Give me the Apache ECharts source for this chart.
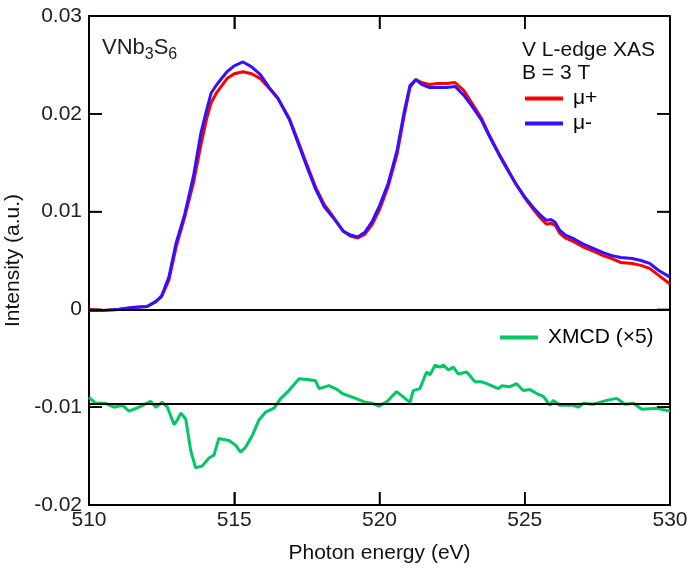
<!DOCTYPE html>
<html>
<head>
<meta charset="utf-8">
<script src="https://cdn.jsdelivr.net/npm/echarts@6/dist/echarts.min.js"></script>
<style>
  html, body { margin: 0; padding: 0; background: #fff; }
  #chart { width: 691px; height: 573px; }
</style>
</head>
<body>
<div id="chart"></div>
<script>
// photon energies (eV) shared by the two XAS spectra
const energy = [510, 510.5, 511, 511.5, 512, 512.3, 512.5, 512.75, 513, 513.3, 513.6, 513.85, 514.05, 514.2, 514.4,
  514.75, 515.0, 515.3, 515.6, 515.9, 516.2, 516.5, 516.9, 517.2, 517.5, 517.8, 518.1, 518.4, 518.75, 519.0,
  519.25, 519.5, 519.75, 520.0, 520.3, 520.6, 520.85, 521.05, 521.25, 521.45, 521.7, 522.0, 522.3, 522.6, 522.9,
  523.2, 523.5, 523.8, 524.1, 524.4, 524.7, 525.0, 525.3, 525.55, 525.75, 525.9, 526.05, 526.2, 526.4, 526.7,
  527.0, 527.4, 527.7, 528.0, 528.3, 528.7, 529.0, 529.3, 529.6, 530];

const muPlus = [0.0000, -0.0001, 0.0000, 0.0002, 0.0003, 0.0008, 0.0013, 0.0030, 0.0064, 0.0095, 0.0130, 0.0168, 0.0195, 0.0211, 0.0222,
  0.0236, 0.0241, 0.0243, 0.0241, 0.0236, 0.0226, 0.0216, 0.0195, 0.0172, 0.0148, 0.0125, 0.0107, 0.0095, 0.0080, 0.0075,
  0.0073, 0.0077, 0.0087, 0.0102, 0.0126, 0.0158, 0.0198, 0.0227, 0.0235, 0.0232, 0.0230, 0.0231, 0.0231, 0.0232, 0.0224,
  0.0210, 0.0196, 0.0177, 0.0160, 0.0144, 0.0128, 0.0114, 0.0102, 0.0093, 0.0087, 0.0088, 0.0086, 0.0078, 0.0073, 0.0069,
  0.0064, 0.0059, 0.0055, 0.0052, 0.0048, 0.0047, 0.0045, 0.0042, 0.0035, 0.0026];

const muMinus = [-0.0001, -0.0001, 0.0000, 0.0002, 0.0003, 0.0008, 0.0014, 0.0033, 0.0068, 0.0098, 0.0137, 0.0180, 0.0204, 0.0221, 0.0230,
  0.0243, 0.0249, 0.0253, 0.0248, 0.0240, 0.0227, 0.0216, 0.0194, 0.0170, 0.0146, 0.0123, 0.0105, 0.0094, 0.0080, 0.0076,
  0.0074, 0.0079, 0.0090, 0.0106, 0.0129, 0.0162, 0.0202, 0.0229, 0.0235, 0.0230, 0.0227, 0.0227, 0.0227, 0.0228, 0.0219,
  0.0207, 0.0194, 0.0176, 0.0159, 0.0143, 0.0128, 0.0115, 0.0104, 0.0096, 0.0091, 0.0092, 0.0089, 0.0081, 0.0076, 0.0072,
  0.0067, 0.0062, 0.0058, 0.0055, 0.0053, 0.0052, 0.0050, 0.0047, 0.0040, 0.0033];

// XMCD (x5), drawn offset below zero
const xmcdEnergy = [510, 510.23, 510.57, 510.86, 511.15, 511.38, 511.72, 512.12, 512.3, 512.52, 512.7, 512.93, 513.04, 513.16, 513.33,
  513.5, 513.67, 513.9, 514.13, 514.3, 514.47, 514.82, 515.05, 515.22, 515.39, 515.62, 515.85, 516.08, 516.37, 516.6,
  516.88, 517.23, 517.57, 517.8, 517.92, 518.26, 518.55, 518.72, 519.18, 519.52, 519.75, 519.98, 520.27, 520.59, 521.05,
  521.16, 521.39, 521.62, 521.74, 521.91, 522.08, 522.2, 522.37, 522.54, 522.71, 523.0, 523.29, 523.52, 523.69, 524.09,
  524.21, 524.49, 524.72, 524.95, 525.18, 525.41, 525.64, 525.87, 525.98, 526.21, 526.67, 526.84, 527.02, 527.36, 527.82,
  528.17, 528.45, 528.74, 529.03, 529.54, 530];
const xmcd = [-0.0090, -0.0096, -0.0096, -0.0100, -0.0098, -0.0104, -0.0100, -0.0094, -0.0100, -0.0095, -0.0100, -0.0118, -0.0113, -0.0106, -0.0112,
  -0.0144, -0.0162, -0.0160, -0.0152, -0.0149, -0.0132, -0.0134, -0.0139, -0.0146, -0.0141, -0.0129, -0.0113, -0.0105, -0.0101, -0.0091,
  -0.0083, -0.0071, -0.0072, -0.0073, -0.0081, -0.0078, -0.0082, -0.0086, -0.0091, -0.0095, -0.0096, -0.0099, -0.0094, -0.0084, -0.0095,
  -0.0083, -0.0081, -0.0064, -0.0067, -0.0057, -0.0059, -0.0057, -0.0062, -0.0059, -0.0066, -0.0064, -0.0074, -0.0074, -0.0076, -0.0081,
  -0.0078, -0.0079, -0.0076, -0.0083, -0.0082, -0.0086, -0.0089, -0.0098, -0.0093, -0.0098, -0.0098, -0.0100, -0.0096, -0.0097, -0.0093,
  -0.0091, -0.0097, -0.0096, -0.0102, -0.0101, -0.0104];

const refLines = [0, -0.0096];

// tick positions on both axes
const xTicks = [510, 515, 520, 525, 530];
const yTicks = [-0.02, -0.01, 0, 0.01, 0.02, 0.03];

const font = 'Liberation Sans, Arial, sans-serif';
const zip = (xs, ys) => xs.map((x, i) => [x, ys[i]]);
const xMin = xTicks[0], xMax = xTicks[xTicks.length - 1];
const yMin = yTicks[0], yMax = yTicks[yTicks.length - 1];

const chart = echarts.init(document.getElementById('chart'));

const ticks = () => ({show: true, inside: true, length: 13, lineStyle: {color: '#000', width: 1.5}});
const axLine = () => ({show: true, onZero: false, lineStyle: {color: '#000', width: 2}});

// inward ticks on all four sides of the frame, placed through the axes' own scales
const TICK = 13;
const tickStyle = {stroke: '#000', lineWidth: 1.5};
function renderTick(params, api) {
  const kind = api.value(2);
  if (kind === 0) {
    const v = api.value(0);
    const b = api.coord([v, yMin]);
    const t = api.coord([v, yMax]);
    return {type: 'group', children: [
      {type: 'line', shape: {x1: b[0], y1: b[1], x2: b[0], y2: b[1] - TICK}, style: tickStyle},
      {type: 'line', shape: {x1: t[0], y1: t[1], x2: t[0], y2: t[1] + TICK}, style: tickStyle}
    ]};
  }
  const v = api.value(1);
  const l = api.coord([xMin, v]);
  const r = api.coord([xMax, v]);
  return {type: 'group', children: [
    {type: 'line', shape: {x1: l[0], y1: l[1], x2: l[0] + TICK, y2: l[1]}, style: tickStyle},
    {type: 'line', shape: {x1: r[0], y1: r[1], x2: r[0] - TICK, y2: r[1]}, style: tickStyle}
  ]};
}
const tickData = xTicks.map(v => [v, yMin, 0]).concat(yTicks.map(v => [xMin, v, 1]));

chart.setOption({
  animation: false,
  backgroundColor: '#fff',
  grid: {left: 89, right: 21, top: 16, bottom: 68, containLabel: false, outerBoundsMode: 'none'},
  title: [
    {
      text: '{a|VNb}{s|3}{a|S}{s|6}', left: 102, top: 33, padding: 0,
      textStyle: {
        rich: {
          a: {fontFamily: font, fontSize: 22, fontWeight: 'normal', color: '#222', lineHeight: 30},
          s: {fontFamily: font, fontSize: 16, fontWeight: 'normal', color: '#222', lineHeight: 16, verticalAlign: 'bottom'}
        }
      }
    },
    {text: 'V L-edge XAS', left: 522, top: 40, padding: 0,
      textStyle: {fontFamily: font, fontSize: 21, fontWeight: 'normal', color: '#111'}},
    {text: 'B = 3 T', left: 522, top: 63, padding: 0,
      textStyle: {fontFamily: font, fontSize: 21, fontWeight: 'normal', color: '#111'}}
  ],
  legend: [
    {
      data: ['μ+', 'μ-'], orient: 'vertical', left: 525, top: 88, padding: 0,
      itemGap: 4, itemWidth: 38, itemHeight: 4, icon: 'rect',
      textStyle: {fontFamily: font, fontSize: 21, color: '#000', padding: [0, 0, 0, 5]}
    },
    {
      data: ['XMCD (×5)'], left: 500, top: 327, padding: 0,
      itemWidth: 38, itemHeight: 4, icon: 'rect',
      textStyle: {fontFamily: font, fontSize: 21, color: '#000', padding: [0, 0, 0, 5]}
    }
  ],
  xAxis: [
    {
      type: 'value', min: xMin, max: xMax, interval: 5, position: 'bottom',
      name: 'Photon energy (eV)', nameLocation: 'middle', nameGap: 38,
      nameTextStyle: {fontFamily: font, fontSize: 21, color: '#111'},
      axisLine: axLine(), axisTick: ticks(), splitLine: {show: false},
      axisLabel: {fontFamily: font, fontSize: 21, color: '#222', margin: 5}
    },
    {
      type: 'value', min: xMin, max: xMax, interval: 5, position: 'top',
      axisLine: axLine(), axisTick: ticks(), splitLine: {show: false}, axisLabel: {show: false}
    }
  ],
  yAxis: [
    {
      type: 'value', min: yMin, max: yMax, interval: 0.01, position: 'left',
      name: 'Intensity (a.u.)', nameLocation: 'middle', nameGap: 62,
      nameTextStyle: {fontFamily: font, fontSize: 21, color: '#111'},
      axisLine: axLine(), axisTick: ticks(), splitLine: {show: false},
      axisLabel: {
        fontFamily: font, fontSize: 21, color: '#222', margin: 7,
        formatter: v => {
          const r = Math.round(v * 100) / 100;
          return r === 0 ? '0' : r.toFixed(2);
        }
      }
    },
    {
      type: 'value', min: yMin, max: yMax, interval: 0.01, position: 'right',
      axisLine: axLine(), axisTick: ticks(), splitLine: {show: false}, axisLabel: {show: false}
    }
  ],
  series: [
    {
      name: 'μ+', type: 'line', data: zip(energy, muPlus), showSymbol: false,
      color: '#ff0000', lineStyle: {width: 3}, z: 3,
      markLine: {
        silent: true, symbol: 'none', label: {show: false}, precision: 5,
        lineStyle: {color: '#000', width: 2, type: 'solid'},
        data: refLines.map(v => ({yAxis: v}))
      }
    },
    {
      name: 'μ-', type: 'line', data: zip(energy, muMinus), showSymbol: false,
      color: '#3311ff', lineStyle: {width: 3}, z: 4
    },
    {
      name: 'XMCD (×5)', type: 'line', data: zip(xmcdEnergy, xmcd), showSymbol: false,
      color: '#00c864', lineStyle: {width: 3}, z: 3
    },
    {
      name: 'ticks', type: 'custom', data: tickData, renderItem: renderTick,
      dimensions: ['x', 'y', 'kind'], encode: {x: 0, y: 1},
      clip: false, silent: true, z: 6, tooltip: {show: false}
    }
  ]
});
</script>
</body>
</html>
